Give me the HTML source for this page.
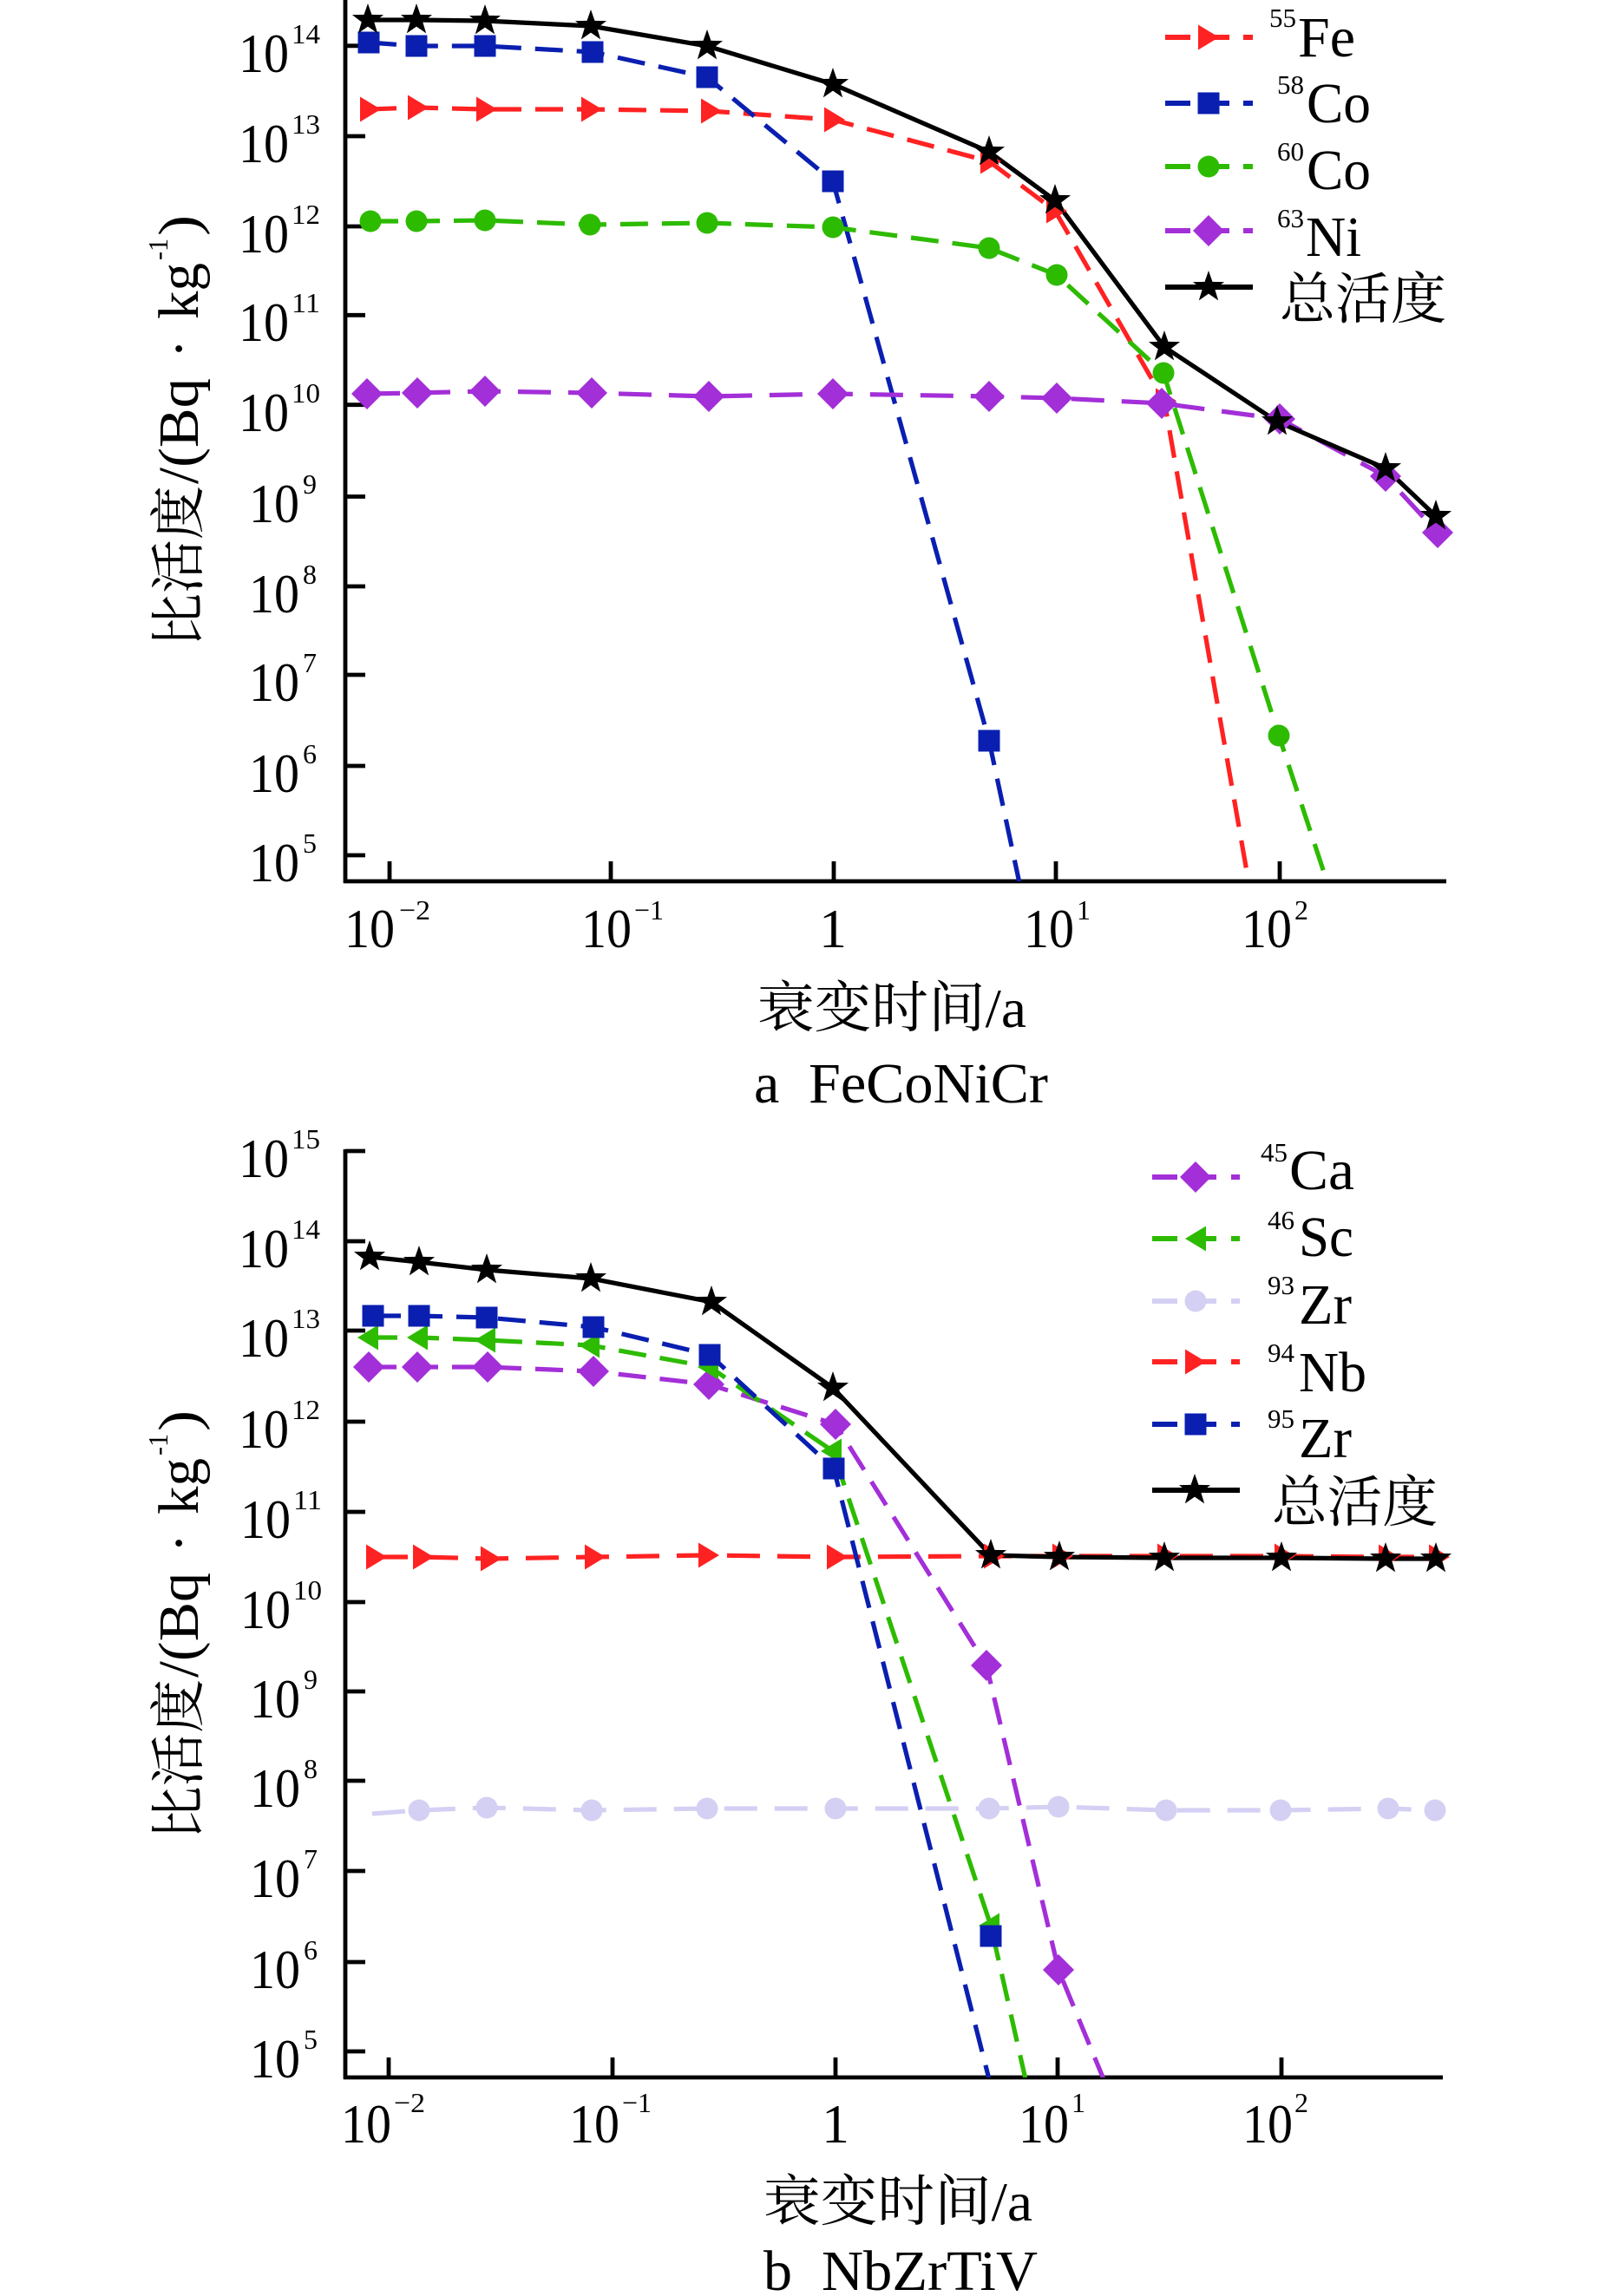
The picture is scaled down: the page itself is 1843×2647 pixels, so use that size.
<!DOCTYPE html>
<html>
<head>
<meta charset="utf-8">
<style>
html,body{margin:0;padding:0;background:#fff;}
svg{display:block;}
text{font-family:"Liberation Serif","Noto Serif CJK SC",serif;fill:#000;}
.cjk{font-family:"Liberation Serif","Noto Serif CJK SC","Noto Sans CJK SC",serif;}
</style>
</head>
<body>
<svg width="1843" height="2647" viewBox="0 0 1843 2647" xmlns="http://www.w3.org/2000/svg">
<defs>
<path id="st" d="M0,-19 L4.47,-6.15 L18.07,-5.87 L7.23,2.35 L11.17,15.37 L0,7.6 L-11.17,15.37 L-7.23,2.35 L-18.07,-5.87 L-4.47,-6.15 Z"/>
<rect id="sq" x="-12.5" y="-12.5" width="25" height="25"/>
<circle id="ci" r="12.5" cx="0" cy="0"/>
<path id="di" d="M0,-18 L18,0 L0,18 L-18,0 Z"/>
<path id="tr" d="M-10,-14.5 L14,0 L-10,14.5 Z"/>
<path id="tl" d="M10,-14.5 L-14,0 L10,14.5 Z"/>
<clipPath id="ca"><rect x="398" y="0" width="1280" height="1016"/></clipPath>
<clipPath id="cb"><rect x="398" y="1300" width="1280" height="1095"/></clipPath>
</defs>
<rect width="1843" height="2647" fill="#fff"/>

<!-- ================= PLOT A ================= -->
<g stroke="#000" stroke-width="4.8" fill="none">
<line x1="398" y1="0" x2="398" y2="1018"/>
<line x1="396" y1="1016" x2="1667" y2="1016"/>
<line x1="398" y1="52.8" x2="421" y2="52.8"/>
<line x1="398" y1="157" x2="421" y2="157"/>
<line x1="398" y1="261" x2="421" y2="261"/>
<line x1="398" y1="363.3" x2="421" y2="363.3"/>
<line x1="398" y1="466.7" x2="421" y2="466.7"/>
<line x1="398" y1="572.5" x2="421" y2="572.5"/>
<line x1="398" y1="676" x2="421" y2="676"/>
<line x1="398" y1="778" x2="421" y2="778"/>
<line x1="398" y1="883" x2="421" y2="883"/>
<line x1="398" y1="986" x2="421" y2="986"/>
<line x1="449" y1="1016" x2="449" y2="993"/>
<line x1="704" y1="1016" x2="704" y2="993"/>
<line x1="961" y1="1016" x2="961" y2="993"/>
<line x1="1217" y1="1016" x2="1217" y2="993"/>
<line x1="1475" y1="1016" x2="1475" y2="993"/>
</g>

<!-- y tick labels A -->
<g font-size="64">
<text x="275" y="83" textLength="58" lengthAdjust="spacingAndGlyphs">10</text>
<text x="275" y="187" textLength="58" lengthAdjust="spacingAndGlyphs">10</text>
<text x="275" y="291" textLength="58" lengthAdjust="spacingAndGlyphs">10</text>
<text x="275" y="393" textLength="58" lengthAdjust="spacingAndGlyphs">10</text>
<text x="275" y="497" textLength="58" lengthAdjust="spacingAndGlyphs">10</text>
<text x="287" y="602" textLength="58" lengthAdjust="spacingAndGlyphs">10</text>
<text x="287" y="706" textLength="58" lengthAdjust="spacingAndGlyphs">10</text>
<text x="287" y="808" textLength="58" lengthAdjust="spacingAndGlyphs">10</text>
<text x="287" y="913" textLength="58" lengthAdjust="spacingAndGlyphs">10</text>
<text x="287" y="1016" textLength="58" lengthAdjust="spacingAndGlyphs">10</text>
</g>
<g font-size="32">
<text x="336" y="50" textLength="33" lengthAdjust="spacingAndGlyphs">14</text>
<text x="336" y="154" textLength="33" lengthAdjust="spacingAndGlyphs">13</text>
<text x="336" y="258" textLength="33" lengthAdjust="spacingAndGlyphs">12</text>
<text x="336" y="360" textLength="33" lengthAdjust="spacingAndGlyphs">11</text>
<text x="336" y="464" textLength="33" lengthAdjust="spacingAndGlyphs">10</text>
<text x="349" y="569">9</text>
<text x="349" y="673">8</text>
<text x="349" y="775">7</text>
<text x="349" y="880">6</text>
<text x="349" y="983">5</text>
</g>

<!-- x tick labels A -->
<g font-size="64">
<text x="397" y="1092" textLength="58" lengthAdjust="spacingAndGlyphs">10</text>
<text x="670" y="1092" textLength="58" lengthAdjust="spacingAndGlyphs">10</text>
<text x="944" y="1092">1</text>
<text x="1180" y="1092" textLength="58" lengthAdjust="spacingAndGlyphs">10</text>
<text x="1431" y="1092" textLength="58" lengthAdjust="spacingAndGlyphs">10</text>
</g>
<g font-size="32">
<text x="460" y="1060" textLength="36" lengthAdjust="spacingAndGlyphs">−2</text>
<text x="731" y="1060" textLength="34" lengthAdjust="spacingAndGlyphs">−1</text>
<text x="1241" y="1060">1</text>
<text x="1492" y="1060">2</text>
</g>

<!-- y axis title A -->
<g transform="translate(228,746) rotate(-90)">
<text class="cjk" x="0" y="0" font-size="64" textLength="186" lengthAdjust="spacingAndGlyphs">比活度</text>
<text x="188" y="0" font-size="66" textLength="122" lengthAdjust="spacingAndGlyphs">/(Bq</text>
<text x="344" y="0" font-size="66" text-anchor="middle">·</text>
<text x="378" y="0" font-size="66" textLength="65" lengthAdjust="spacingAndGlyphs">kg</text>
<text x="446" y="-35" font-size="32" textLength="25" lengthAdjust="spacingAndGlyphs">-1</text>
<text x="474" y="0" font-size="66" textLength="24" lengthAdjust="spacingAndGlyphs">)</text>
</g>

<!-- x axis title A -->
<text class="cjk" x="873" y="1184" font-size="64" textLength="310" lengthAdjust="spacingAndGlyphs">衰变时间/a</text>
<text x="869" y="1271" font-size="66">a</text>
<text x="932" y="1271" font-size="66" textLength="276" lengthAdjust="spacingAndGlyphs">FeCoNiCr</text>

<!-- series A -->
<g clip-path="url(#ca)" fill="none" stroke-width="5.2" stroke-dasharray="32 16">
<polyline stroke="#ff2222" points="425,126 480,124 559,126 680,126 818,128 960,138 1140,186 1216,243 1342,462 1439,1016"/>
<polyline stroke="#0a1fb0" points="425,49 480,53 559,53 683,60 815,89 960,209 1140,854 1175,1018"/>
<polyline stroke="#2dbb00" points="427,255 480,255 559,254 680,259 815,257 960,262 1140,286 1218,317 1341,430 1474,848 1530,1018"/>
<polyline stroke="#a32fd8" stroke-dasharray="38 20" points="423,454 481,453 559,451 682,453 817,457 960,454 1140,457 1218,459 1339,465 1475,483 1597,549 1657,614"/>
<polyline stroke="#000" stroke-dasharray="none" points="424,23 480,23 559,24 681,30 815,53 960,97 1140,175 1216,231 1342,400 1472,486 1597,540 1655,595"/>
</g>
<g fill="#ff2222">
<use href="#tr" x="425" y="126"/><use href="#tr" x="480" y="124"/><use href="#tr" x="559" y="126"/><use href="#tr" x="680" y="126"/><use href="#tr" x="818" y="128"/><use href="#tr" x="960" y="138"/><use href="#tr" x="1140" y="186"/><use href="#tr" x="1216" y="243"/><use href="#tr" x="1342" y="462"/>
</g>
<g fill="#0a1fb0">
<use href="#sq" x="425" y="49"/><use href="#sq" x="480" y="53"/><use href="#sq" x="559" y="53"/><use href="#sq" x="683" y="60"/><use href="#sq" x="815" y="89"/><use href="#sq" x="960" y="209"/><use href="#sq" x="1140" y="854"/>
</g>
<g fill="#2dbb00">
<use href="#ci" x="427" y="255"/><use href="#ci" x="480" y="255"/><use href="#ci" x="559" y="254"/><use href="#ci" x="680" y="259"/><use href="#ci" x="815" y="257"/><use href="#ci" x="960" y="262"/><use href="#ci" x="1140" y="286"/><use href="#ci" x="1218" y="317"/><use href="#ci" x="1341" y="430"/><use href="#ci" x="1474" y="848"/>
</g>
<g fill="#a32fd8">
<use href="#di" x="423" y="454"/><use href="#di" x="481" y="453"/><use href="#di" x="559" y="451"/><use href="#di" x="682" y="453"/><use href="#di" x="817" y="457"/><use href="#di" x="960" y="454"/><use href="#di" x="1140" y="457"/><use href="#di" x="1218" y="459"/><use href="#di" x="1339" y="465"/><use href="#di" x="1475" y="483"/><use href="#di" x="1597" y="549"/><use href="#di" x="1657" y="614"/>
</g>
<g fill="#000">
<use href="#st" x="424" y="23"/><use href="#st" x="480" y="23"/><use href="#st" x="559" y="24"/><use href="#st" x="681" y="30"/><use href="#st" x="815" y="53"/><use href="#st" x="960" y="97"/><use href="#st" x="1140" y="175"/><use href="#st" x="1216" y="231"/><use href="#st" x="1342" y="400"/><use href="#st" x="1472" y="486"/><use href="#st" x="1597" y="540"/><use href="#st" x="1655" y="595"/>
</g>

<!-- legend A -->
<g stroke-width="6" fill="none">
<g stroke="#ff2222"><line x1="1343" y1="43" x2="1372" y2="43"/><line x1="1393" y1="43" x2="1417" y2="43"/><line x1="1433" y1="43" x2="1444" y2="43"/></g>
<g stroke="#0a1fb0"><line x1="1343" y1="119" x2="1372" y2="119"/><line x1="1393" y1="119" x2="1417" y2="119"/><line x1="1433" y1="119" x2="1444" y2="119"/></g>
<g stroke="#2dbb00"><line x1="1343" y1="192" x2="1372" y2="192"/><line x1="1393" y1="192" x2="1417" y2="192"/><line x1="1433" y1="192" x2="1444" y2="192"/></g>
<g stroke="#a32fd8"><line x1="1343" y1="266" x2="1372" y2="266"/><line x1="1393" y1="266" x2="1417" y2="266"/><line x1="1433" y1="266" x2="1444" y2="266"/></g>
<line stroke="#000" x1="1343" y1="331" x2="1444" y2="331"/>
</g>
<use href="#tr" x="1391" y="43" fill="#ff2222"/>
<use href="#sq" x="1393" y="119" fill="#0a1fb0"/>
<use href="#ci" x="1393" y="192" fill="#2dbb00"/>
<use href="#di" x="1393" y="266" fill="#a32fd8"/>
<use href="#st" x="1393" y="331" fill="#000"/>
<g font-size="31">
<text x="1463" y="31" textLength="31" lengthAdjust="spacingAndGlyphs">55</text>
<text x="1472" y="108" textLength="31" lengthAdjust="spacingAndGlyphs">58</text>
<text x="1472" y="185" textLength="31" lengthAdjust="spacingAndGlyphs">60</text>
<text x="1472" y="262" textLength="31" lengthAdjust="spacingAndGlyphs">63</text>
</g>
<g font-size="66">
<text x="1496" y="65" textLength="66" lengthAdjust="spacingAndGlyphs">Fe</text>
<text x="1506" y="141" textLength="74" lengthAdjust="spacingAndGlyphs">Co</text>
<text x="1506" y="218" textLength="74" lengthAdjust="spacingAndGlyphs">Co</text>
<text x="1505" y="295" textLength="64" lengthAdjust="spacingAndGlyphs">Ni</text>
</g>
<text class="cjk" x="1475" y="367" font-size="64" textLength="192" lengthAdjust="spacingAndGlyphs">总活度</text>

<!-- ================= PLOT B ================= -->
<g stroke="#000" stroke-width="4.8" fill="none">
<line x1="398" y1="1325" x2="398" y2="2397"/>
<line x1="396" y1="2395" x2="1663" y2="2395"/>
<line x1="398" y1="1327" x2="421" y2="1327"/>
<line x1="398" y1="1431" x2="421" y2="1431"/>
<line x1="398" y1="1534" x2="421" y2="1534"/>
<line x1="398" y1="1639" x2="421" y2="1639"/>
<line x1="398" y1="1743" x2="421" y2="1743"/>
<line x1="398" y1="1847" x2="421" y2="1847"/>
<line x1="398" y1="1950" x2="421" y2="1950"/>
<line x1="398" y1="2053" x2="421" y2="2053"/>
<line x1="398" y1="2157" x2="421" y2="2157"/>
<line x1="398" y1="2262" x2="421" y2="2262"/>
<line x1="398" y1="2365" x2="421" y2="2365"/>
<line x1="448" y1="2395" x2="448" y2="2372"/>
<line x1="706" y1="2395" x2="706" y2="2372"/>
<line x1="963" y1="2395" x2="963" y2="2372"/>
<line x1="1219" y1="2395" x2="1219" y2="2372"/>
<line x1="1477" y1="2395" x2="1477" y2="2372"/>
</g>

<g font-size="64">
<text x="275" y="1357" textLength="58" lengthAdjust="spacingAndGlyphs">10</text>
<text x="275" y="1461" textLength="58" lengthAdjust="spacingAndGlyphs">10</text>
<text x="275" y="1564" textLength="58" lengthAdjust="spacingAndGlyphs">10</text>
<text x="275" y="1669" textLength="58" lengthAdjust="spacingAndGlyphs">10</text>
<text x="277" y="1773" textLength="58" lengthAdjust="spacingAndGlyphs">10</text>
<text x="277" y="1877" textLength="58" lengthAdjust="spacingAndGlyphs">10</text>
<text x="288" y="1980" textLength="58" lengthAdjust="spacingAndGlyphs">10</text>
<text x="288" y="2083" textLength="58" lengthAdjust="spacingAndGlyphs">10</text>
<text x="288" y="2187" textLength="58" lengthAdjust="spacingAndGlyphs">10</text>
<text x="288" y="2292" textLength="58" lengthAdjust="spacingAndGlyphs">10</text>
<text x="288" y="2395" textLength="58" lengthAdjust="spacingAndGlyphs">10</text>
</g>
<g font-size="32">
<text x="336" y="1324" textLength="33" lengthAdjust="spacingAndGlyphs">15</text>
<text x="336" y="1428" textLength="33" lengthAdjust="spacingAndGlyphs">14</text>
<text x="336" y="1531" textLength="33" lengthAdjust="spacingAndGlyphs">13</text>
<text x="336" y="1636" textLength="33" lengthAdjust="spacingAndGlyphs">12</text>
<text x="338" y="1740" textLength="33" lengthAdjust="spacingAndGlyphs">11</text>
<text x="338" y="1844" textLength="33" lengthAdjust="spacingAndGlyphs">10</text>
<text x="350" y="1947">9</text>
<text x="350" y="2050">8</text>
<text x="350" y="2154">7</text>
<text x="350" y="2259">6</text>
<text x="350" y="2362">5</text>
</g>

<g font-size="64">
<text x="393" y="2470" textLength="58" lengthAdjust="spacingAndGlyphs">10</text>
<text x="656" y="2470" textLength="58" lengthAdjust="spacingAndGlyphs">10</text>
<text x="947" y="2470">1</text>
<text x="1174" y="2470" textLength="58" lengthAdjust="spacingAndGlyphs">10</text>
<text x="1432" y="2470" textLength="58" lengthAdjust="spacingAndGlyphs">10</text>
</g>
<g font-size="32">
<text x="454" y="2435" textLength="36" lengthAdjust="spacingAndGlyphs">−2</text>
<text x="717" y="2435" textLength="34" lengthAdjust="spacingAndGlyphs">−1</text>
<text x="1235" y="2435">1</text>
<text x="1492" y="2435">2</text>
</g>

<g transform="translate(228,2121) rotate(-90)">
<text class="cjk" x="0" y="0" font-size="64" textLength="185" lengthAdjust="spacingAndGlyphs">比活度</text>
<text x="187" y="0" font-size="66" textLength="121" lengthAdjust="spacingAndGlyphs">/(Bq</text>
<text x="342" y="0" font-size="66" text-anchor="middle">·</text>
<text x="375" y="0" font-size="66" textLength="65" lengthAdjust="spacingAndGlyphs">kg</text>
<text x="443" y="-35" font-size="32" textLength="25" lengthAdjust="spacingAndGlyphs">-1</text>
<text x="471" y="0" font-size="66" textLength="24" lengthAdjust="spacingAndGlyphs">)</text>
</g>

<text class="cjk" x="880" y="2560" font-size="64" textLength="310" lengthAdjust="spacingAndGlyphs">衰变时间/a</text>
<text x="880" y="2640" font-size="66">b</text>
<text x="947" y="2640" font-size="66" textLength="249" lengthAdjust="spacingAndGlyphs">NbZrTiV</text>

<!-- series B -->
<g clip-path="url(#cb)" fill="none" stroke-width="5.2" stroke-dasharray="32 16">
<polyline stroke="#a32fd8" points="425,1576 481,1576 562,1576 684,1581 817,1596 963,1642 1137,1920 1220,2271 1272,2397"/>
<polyline stroke="#2dbb00" points="426,1542 483,1542 561,1545 681,1551 818,1576 960,1673 1142,2220 1182,2397"/>
<polyline stroke="#d4d0f4" stroke-dasharray="38 20" points="429,2091 483,2087 561,2084 682,2087 815,2085 963,2085 1140,2085 1220,2083 1344,2087 1476,2087 1600,2085 1654,2087"/>
<polyline stroke="#ff2222" stroke-dasharray="38 20" points="432,1795 486,1795 564,1797 684,1795 815,1793 963,1795 1142,1794 1221,1794 1342,1794 1477,1794 1597,1795 1660,1795"/>
<polyline stroke="#0a1fb0" points="430,1517 483,1517 561,1519 684,1530 818,1562 961,1693 1140,2397"/>
<polyline stroke="#000" stroke-dasharray="none" points="426,1449 483,1455 561,1464 681,1474 820,1501 960,1600 1142,1793 1221,1795 1342,1796 1477,1796 1597,1797 1655,1797"/>
</g>
<g fill="#a32fd8">
<use href="#di" x="425" y="1576"/><use href="#di" x="481" y="1576"/><use href="#di" x="562" y="1576"/><use href="#di" x="684" y="1581"/><use href="#di" x="817" y="1596"/><use href="#di" x="963" y="1642"/><use href="#di" x="1137" y="1920"/><use href="#di" x="1220" y="2271"/>
</g>
<g fill="#2dbb00">
<use href="#tl" x="426" y="1542"/><use href="#tl" x="483" y="1542"/><use href="#tl" x="561" y="1545"/><use href="#tl" x="681" y="1551"/><use href="#tl" x="818" y="1576"/><use href="#tl" x="960" y="1673"/><use href="#tl" x="1142" y="2220"/>
</g>
<g fill="#d4d0f4">
<use href="#ci" x="483" y="2087"/><use href="#ci" x="561" y="2084"/><use href="#ci" x="682" y="2087"/><use href="#ci" x="815" y="2085"/><use href="#ci" x="963" y="2085"/><use href="#ci" x="1140" y="2085"/><use href="#ci" x="1220" y="2083"/><use href="#ci" x="1344" y="2087"/><use href="#ci" x="1476" y="2087"/><use href="#ci" x="1600" y="2085"/><use href="#ci" x="1654" y="2087"/>
</g>
<g fill="#ff2222">
<use href="#tr" x="432" y="1795"/><use href="#tr" x="486" y="1795"/><use href="#tr" x="564" y="1797"/><use href="#tr" x="684" y="1795"/><use href="#tr" x="815" y="1793"/><use href="#tr" x="963" y="1795"/><use href="#tr" x="1144" y="1794"/><use href="#tr" x="1223" y="1794"/><use href="#tr" x="1344" y="1794"/><use href="#tr" x="1479" y="1794"/><use href="#tr" x="1599" y="1795"/><use href="#tr" x="1657" y="1795"/>
</g>
<g fill="#0a1fb0">
<use href="#sq" x="430" y="1517"/><use href="#sq" x="483" y="1517"/><use href="#sq" x="561" y="1519"/><use href="#sq" x="684" y="1530"/><use href="#sq" x="818" y="1562"/><use href="#sq" x="961" y="1693"/><use href="#sq" x="1142" y="2232"/>
</g>
<g fill="#000">
<use href="#st" x="426" y="1449"/><use href="#st" x="483" y="1455"/><use href="#st" x="561" y="1464"/><use href="#st" x="681" y="1474"/><use href="#st" x="820" y="1501"/><use href="#st" x="960" y="1600"/><use href="#st" x="1142" y="1793"/><use href="#st" x="1221" y="1795"/><use href="#st" x="1342" y="1796"/><use href="#st" x="1477" y="1796"/><use href="#st" x="1597" y="1797"/><use href="#st" x="1655" y="1797"/>
</g>

<!-- legend B -->
<g stroke-width="6" fill="none">
<g stroke="#a32fd8"><line x1="1328" y1="1357" x2="1357" y2="1357"/><line x1="1378" y1="1357" x2="1402" y2="1357"/><line x1="1419" y1="1357" x2="1429" y2="1357"/></g>
<g stroke="#2dbb00"><line x1="1328" y1="1428" x2="1357" y2="1428"/><line x1="1378" y1="1428" x2="1402" y2="1428"/><line x1="1419" y1="1428" x2="1429" y2="1428"/></g>
<g stroke="#d4d0f4"><line x1="1328" y1="1500" x2="1357" y2="1500"/><line x1="1378" y1="1500" x2="1402" y2="1500"/><line x1="1419" y1="1500" x2="1429" y2="1500"/></g>
<g stroke="#ff2222"><line x1="1328" y1="1570" x2="1357" y2="1570"/><line x1="1378" y1="1570" x2="1402" y2="1570"/><line x1="1419" y1="1570" x2="1429" y2="1570"/></g>
<g stroke="#0a1fb0"><line x1="1328" y1="1642" x2="1357" y2="1642"/><line x1="1378" y1="1642" x2="1402" y2="1642"/><line x1="1419" y1="1642" x2="1429" y2="1642"/></g>
<line stroke="#000" x1="1328" y1="1718" x2="1429" y2="1718"/>
</g>
<use href="#di" x="1378" y="1357" fill="#a32fd8"/>
<use href="#tl" x="1380" y="1428" fill="#2dbb00"/>
<use href="#ci" x="1378" y="1500" fill="#d4d0f4"/>
<use href="#tr" x="1376" y="1570" fill="#ff2222"/>
<use href="#sq" x="1378" y="1642" fill="#0a1fb0"/>
<use href="#st" x="1377" y="1718" fill="#000"/>
<g font-size="31">
<text x="1453" y="1339" textLength="31" lengthAdjust="spacingAndGlyphs">45</text>
<text x="1461" y="1417" textLength="31" lengthAdjust="spacingAndGlyphs">46</text>
<text x="1461" y="1492" textLength="31" lengthAdjust="spacingAndGlyphs">93</text>
<text x="1461" y="1570" textLength="31" lengthAdjust="spacingAndGlyphs">94</text>
<text x="1461" y="1646" textLength="31" lengthAdjust="spacingAndGlyphs">95</text>
</g>
<g font-size="66">
<text x="1486" y="1371" textLength="75" lengthAdjust="spacingAndGlyphs">Ca</text>
<text x="1497" y="1448" textLength="63" lengthAdjust="spacingAndGlyphs">Sc</text>
<text x="1497" y="1526" textLength="61" lengthAdjust="spacingAndGlyphs">Zr</text>
<text x="1497" y="1604" textLength="78" lengthAdjust="spacingAndGlyphs">Nb</text>
<text x="1497" y="1680" textLength="61" lengthAdjust="spacingAndGlyphs">Zr</text>
</g>
<text class="cjk" x="1466" y="1754" font-size="64" textLength="191" lengthAdjust="spacingAndGlyphs">总活度</text>

</svg>
</body>
</html>
